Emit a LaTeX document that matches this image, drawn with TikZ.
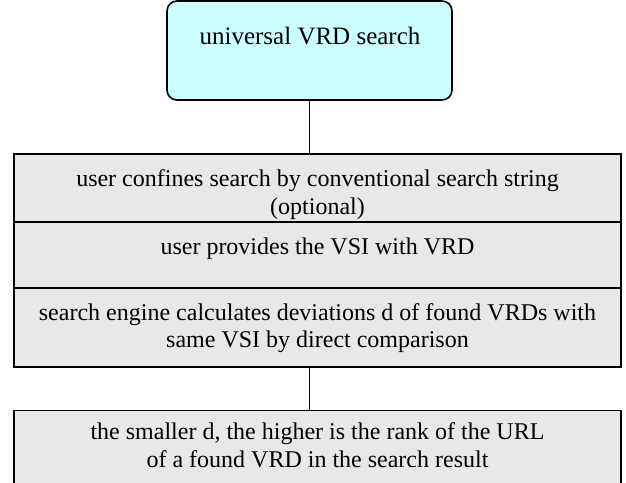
\documentclass[tikz,border=0pt]{standalone}
\usepackage{fontspec}
\setmainfont{Liberation Serif}
\definecolor{cyanbg}{HTML}{CCFFFF}
\definecolor{graybg}{HTML}{E8E8E8}
\begin{document}
\begin{tikzpicture}[x=1pt,y=-1pt,
  topbox/.style={draw=black, line width=1.6pt, fill=cyanbg, rounded corners=10pt, inner sep=0pt, outer sep=0pt},
  box/.style={draw=black, line width=1.6pt, fill=graybg, minimum width=607pt, anchor=north west, inner sep=0pt, outer sep=0pt},
  txt/.style={align=center, font=\fontsize{24}{27.5}\selectfont, inner sep=0pt},
  conn/.style={draw=black, line width=1.6pt}]
\useasboundingbox (0,0) rectangle (626,482);
\node[topbox, minimum width=285pt, minimum height=99pt] (top) at (309.5,50.5) {};
\node[box, minimum height=68pt] (b1) at (14,153.7) {};
\node[box, minimum height=66.3pt] (b2) at (14,221.7) {};
\node[box, minimum height=79pt] (b3) at (14,288) {};
\node[box, minimum height=80pt] (b4) at (14,410.5) {};
\draw[conn] (top.south) -- (top.south |- b1.north);
\draw[conn] (top.south |- b3.south) -- (top.south |- b4.north);
\node[txt, font=\fontsize{25}{28}\selectfont] (t0) at (310,36) {universal VRD search};
\node[txt] (t1) at (317.5,194.5) {user confines search by conventional search string\\(optional)};
\node[txt] (t2) at (317.5,249) {user provides the VSI with VRD};
\node[txt] (t3) at (317.5,328) {search engine calculates deviations d of found VRDs with\\same VSI by direct comparison};
\node[txt] (t4) at (317.5,445) {the smaller d, the higher is the rank of the URL\\of a found VRD in the search result};
\end{tikzpicture}
\end{document}
